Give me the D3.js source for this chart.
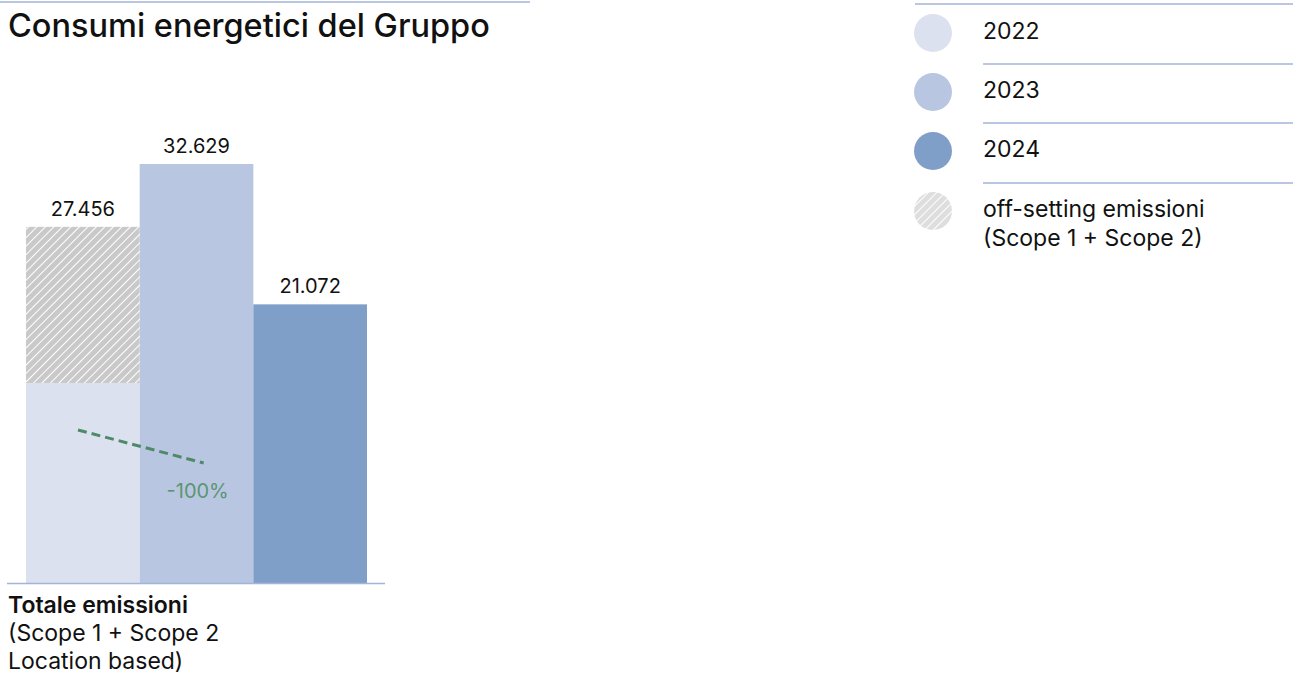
<!DOCTYPE html>
<html>
<head>
<meta charset="utf-8">
<script src="https://cdn.jsdelivr.net/npm/d3@7"></script>
<style>
    body { margin: 0; background: #fff; font-family: Inter, "Noto Sans", sans-serif; }
    #chart { width: 1293px; height: 677px; }
</style>
</head>
<body>
<div id="chart"></div>
<script>
// data
const years = ["2022", "2023", "2024"];
const totals = [27456, 32629, 21072];
const baseValues = [14600, 32629, 21072];   // plain part of each bar
const offsetValues = [12856, 0, 0];          // hatched off-setting part
const barColors = ["#dce1ef", "#b9c6e1", "#809fc8"];
const legendLabels = ["2022", "2023", "2024", ["off-setting emissioni", "(Scope 1 + Scope 2)"]];
const axisLabel = ["Totale emissioni", "(Scope 1 + Scope 2", "Location based)"];
const changeLabel = "-100%";

const fmt = d3.formatLocale({decimal: ",", thousands: ".", grouping: [3], currency: ["", "€"]}).format(",d");
const lineColor = "#a2b5d9";

const svg = d3.select("#chart").append("svg")
    .attr("width", 1293)
    .attr("height", 677);

const defs = svg.append("defs");
function makeHatch(id, bg) {
    const p = defs.append("pattern")
        .attr("id", id)
        .attr("patternUnits", "userSpaceOnUse")
        .attr("width", 6).attr("height", 6)
        .attr("patternTransform", "rotate(45)");
    p.append("rect").attr("width", 6).attr("height", 6).attr("fill", bg);
    p.append("line").attr("x1", 0).attr("y1", 0).attr("x2", 0).attr("y2", 6)
        .attr("stroke", "#fff").attr("stroke-width", 2);
}
makeHatch("hatch", "#c9c9c9");
makeHatch("hatchLight", "#dedede");

// title
svg.append("line")
    .attr("x1", 0).attr("x2", 530).attr("y1", 2).attr("y2", 2)
    .attr("stroke", lineColor).attr("stroke-width", 1.5);
svg.append("text")
    .attr("x", 8).attr("y", 37)
    .attr("font-size", 32.5).attr("font-weight", 500)
    .attr("fill", "#111")
    .text("Consumi energetici del Gruppo");

// scales
const x = d3.scaleBand()
    .domain(years)
    .range([26, 367])
    .padding(0);
const y = d3.scaleLinear()
    .domain([-1870, d3.max(totals)])
    .range([583, 164]);

const bars = svg.append("g");
bars.selectAll(".base")
    .data(years)
    .enter().append("rect")
    .attr("class", "base")
    .attr("x", d => x(d))
    .attr("width", x.bandwidth())
    .attr("y", (d, i) => y(baseValues[i]))
    .attr("height", (d, i) => y.range()[0] - y(baseValues[i]))
    .attr("fill", (d, i) => barColors[i]);

bars.selectAll(".offset")
    .data(years.filter((d, i) => offsetValues[i] > 0))
    .enter().append("rect")
    .attr("class", "offset")
    .attr("x", d => x(d))
    .attr("width", x.bandwidth())
    .attr("y", d => { const i = years.indexOf(d); return y(baseValues[i] + offsetValues[i]); })
    .attr("height", d => { const i = years.indexOf(d); return y(baseValues[i]) - y(baseValues[i] + offsetValues[i]); })
    .attr("fill", "url(#hatch)");

bars.selectAll(".value")
    .data(years)
    .enter().append("text")
    .attr("class", "value")
    .attr("x", d => x(d) + x.bandwidth() / 2)
    .attr("y", (d, i) => y(totals[i]) - 11)
    .attr("text-anchor", "middle")
    .attr("font-size", 20)
    .attr("fill", "#111")
    .text((d, i) => fmt(totals[i]));

// baseline
svg.append("line")
    .attr("x1", 7).attr("x2", 385)
    .attr("y1", 583.5).attr("y2", 583.5)
    .attr("stroke", lineColor).attr("stroke-width", 1.5);

// trend dashed line 2022 -> 2023
svg.append("line")
    .attr("x1", x("2022") + 52).attr("y1", 430)
    .attr("x2", x("2023") + 64).attr("y2", 463)
    .attr("stroke", "#4f8a68").attr("stroke-width", 3)
    .attr("stroke-dasharray", "9,5");
svg.append("text")
    .attr("x", x("2023") + 58).attr("y", 498)
    .attr("text-anchor", "middle")
    .attr("font-size", 20)
    .attr("fill", "#5a9672")
    .text(changeLabel);

// x label
svg.append("g").selectAll("text")
    .data(axisLabel)
    .enter().append("text")
    .attr("x", 8)
    .attr("y", (d, i) => 613 + i * 28)
    .attr("font-size", 23)
    .attr("font-weight", (d, i) => i === 0 ? 600 : 400)
    .attr("fill", "#111")
    .text(d => d);

// legend
const legend = svg.append("g");
legend.append("line")
    .attr("x1", 915).attr("x2", 1293).attr("y1", 4).attr("y2", 4)
    .attr("stroke", lineColor).attr("stroke-width", 1.5);

const rowY = [33, 92, 151, 211];
legend.selectAll("circle")
    .data(legendLabels)
    .enter().append("circle")
    .attr("cx", 933)
    .attr("cy", (d, i) => rowY[i])
    .attr("r", 19)
    .attr("fill", (d, i) => i < 3 ? barColors[i] : "url(#hatchLight)");

legend.selectAll(".sep")
    .data([1, 2, 3])
    .enter().append("line")
    .attr("class", "sep")
    .attr("x1", 983).attr("x2", 1293)
    .attr("y1", d => rowY[d] - 28).attr("y2", d => rowY[d] - 28)
    .attr("stroke", lineColor).attr("stroke-width", 1.5);

legendLabels.forEach((lab, i) => {
    const lines = Array.isArray(lab) ? lab : [lab];
    legend.append("g").selectAll("text")
        .data(lines)
        .enter().append("text")
        .attr("x", 983)
        .attr("y", (d, j) => rowY[i] + 6 + j * 29)
        .attr("font-size", 23)
        .attr("fill", "#111")
        .text(d => d);
});
</script>
</body>
</html>
